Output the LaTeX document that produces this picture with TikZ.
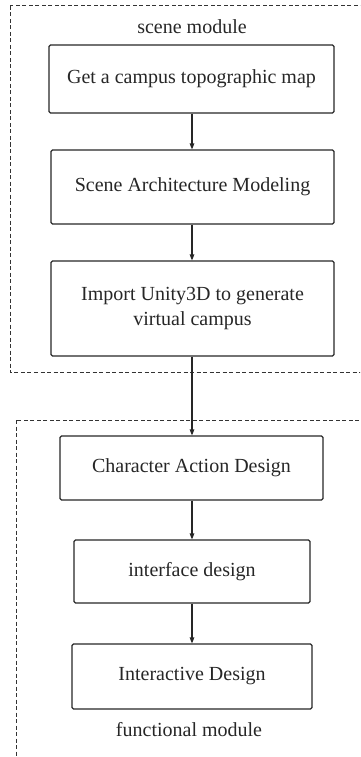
\documentclass[tikz,border=0pt]{standalone}
\usepackage{fontspec}
\setmainfont{Liberation Serif}
\usetikzlibrary{arrows.meta}
\begin{document}
\begin{tikzpicture}[x=1pt,y=-1pt,
  stepbox/.style={draw=black!85, line width=1.1pt, rounded corners=1.5pt, align=center, inner sep=0pt, font=\fontsize{20}{25}\selectfont, text=black!85},
  lbl/.style={font=\fontsize{20}{25}\selectfont, text=black!85},
  modbox/.style={draw=black!80, line width=1pt, dash pattern=on 4pt off 2.5pt},
  conn/.style={draw=black!85, line width=1.1pt, -{Triangle[length=6pt,width=4.5pt]}}]
\useasboundingbox (0,0) rectangle (360,757);
\clip (0,0) rectangle (360,757);
\draw[modbox] (10,6) rectangle (380,372);
\draw[modbox] (16,420) rectangle (380,780);
\node[lbl] (scene) at (192,27) {scene module};
\node[stepbox, minimum width=285pt, minimum height=68pt] (b1) at (191.5,79) {Get a campus topographic map};
\node[stepbox, minimum width=283pt, minimum height=74pt] (b2) at (192.5,187) {Scene Architecture Modeling};
\node[stepbox, minimum width=283pt, minimum height=95pt] (b3) at (192.5,308.5) {Import Unity3D to generate\\virtual campus};
\node[stepbox, minimum width=263pt, minimum height=64pt] (b4) at (191.5,468) {Character Action Design};
\node[stepbox, minimum width=236pt, minimum height=63pt] (b5) at (192,571.5) {interface design};
\node[stepbox, minimum width=240pt, minimum height=65pt] (b6) at (192,676.5) {Interactive Design};
\node[lbl] (func) at (189,730) {functional module};
\draw[conn] (b1.south -| 192,0) -- (b2.north -| 192,0);
\draw[conn] (b2.south -| 192,0) -- (b3.north -| 192,0);
\draw[conn] (b3.south -| 192,0) -- (b4.north -| 192,0);
\draw[conn] (b4.south -| 192,0) -- (b5.north -| 192,0);
\draw[conn] (b5.south -| 192,0) -- (b6.north -| 192,0);
\end{tikzpicture}
\end{document}
